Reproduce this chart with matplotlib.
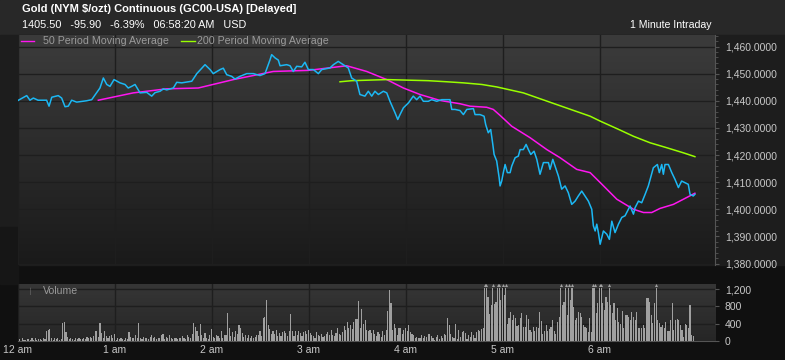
import numpy as np
import matplotlib
matplotlib.use("Agg")
import matplotlib.pyplot as plt
from matplotlib.colors import LinearSegmentedColormap
from matplotlib.ticker import MultipleLocator, FuncFormatter
from matplotlib.patches import Rectangle

plt.rcParams['font.family'] = ['Liberation Sans', 'DejaVu Sans']

# price, minutes after midnight -> last
price_t = [0, 5.7, 7.7, 9.8, 12.7, 18, 19.5, 21.2, 25.2, 27.3, 29.4, 31.4, 33.5, 36.6, 42.8, 45.9,
           51, 53.1, 55.2, 57.2, 59.7, 63.4, 66.5, 68.5, 70.6, 72.7, 75.8, 79.9, 83, 85.1, 88.2,
           90.2, 92.3, 96.4, 98.5, 101.6, 107.8, 110.9, 116, 119.1, 121.1, 125.3, 127.3, 129.4,
           132.5, 134.5, 137.6, 141.8, 145.9, 150, 153.1, 156.2, 157.2, 159.3, 161.3, 162.4,
           166.5, 168.6, 170.6, 172.7, 175.8, 177.8, 179.9, 183, 186.1, 188.2, 193.3, 195.4,
           198.4, 201.5, 204.6, 206.7, 209.8, 211.8, 214.9, 217, 219.1, 221.1, 223.2, 226.3,
           228.4, 230.4, 233.5, 235.2, 236.6, 238.7, 241.8, 244.8, 246.9, 249, 251, 254.1,
           256.2, 259.3, 262.4, 267.5, 268.6, 270.6, 273.7, 275.8, 277.9, 282, 283, 286.1,
           288.6, 289.6, 291.2, 292.7, 294, 294.8, 296.4, 297.9, 298.5, 299.5, 300.5, 301.6,
           303, 304.7, 305.7, 307.8, 309.8, 310.9, 312.9, 314.6, 316, 317.5, 319.5, 321.2,
           323.2, 325.3, 328.4, 329.4, 331.1, 332.5, 334.6, 336.6, 338.7, 340.7, 342.8, 344.9,
           346.9, 349, 351, 353.1, 355.2, 356.2, 357.3, 358.3, 359.3, 360.4, 362.4, 364.5,
           366.1, 367.6, 369.6, 371.7, 373.8, 375.8, 378.9, 381, 382, 384.1, 386.1, 388.2,
           390.2, 391.3, 393.3, 395.8, 397, 398.5, 399.5, 400.5, 402.6, 404.7, 406.7, 408.8,
           410.8, 412.9, 414.9, 416, 418, 419]
price = [1440.0, 1441.9, 1440.2, 1441.0, 1440.2, 1440.2, 1438.0, 1441.3, 1441.9, 1441.0, 1437.8,
         1438.0, 1440.2, 1439.5, 1440.0, 1440.4, 1444.7, 1448.4, 1446.0, 1445.3, 1447.8, 1446.6,
         1446.0, 1444.7, 1445.3, 1446.0, 1442.9, 1443.1, 1441.7, 1443.0, 1443.5, 1444.4, 1444.0,
         1444.7, 1446.8, 1446.6, 1447.2, 1450.0, 1453.3, 1451.5, 1450.0, 1451.5, 1452.0, 1449.6,
         1449.0, 1448.0, 1449.0, 1450.0, 1450.0, 1449.3, 1450.0, 1455.1, 1457.0, 1455.8, 1455.0,
         1452.9, 1453.3, 1452.9, 1450.8, 1452.7, 1452.5, 1454.2, 1451.5, 1451.5, 1450.0, 1451.5,
         1452.1, 1453.3, 1454.5, 1453.3, 1452.1, 1448.4, 1447.2, 1442.3, 1441.7, 1443.5, 1441.7,
         1443.5, 1442.3, 1443.5, 1442.9, 1439.8, 1435.6, 1433.1, 1434.9, 1437.4, 1439.2, 1441.7,
         1440.4, 1441.7, 1439.8, 1439.8, 1440.4, 1439.8, 1440.4, 1440.4, 1436.8, 1436.8, 1436.4,
         1434.9, 1436.8, 1437.1, 1434.9, 1434.9, 1434.3, 1431.2, 1428.2, 1429.4, 1423.9, 1420.2,
         1417.8, 1411.7, 1408.6, 1410.4, 1413.5, 1416.5, 1413.5, 1413.5, 1415.9, 1419.0, 1419.6,
         1422.0, 1422.0, 1423.9, 1422.0, 1420.2, 1421.4, 1418.4, 1412.9, 1417.2, 1417.2, 1414.7,
         1418.4, 1415.9, 1412.2, 1407.4, 1408.6, 1406.1, 1401.8, 1403.0, 1404.9, 1406.7, 1404.9,
         1403.0, 1400.0, 1393.9, 1392.0, 1394.5, 1391.4, 1387.1, 1392.0, 1390.8, 1388.9, 1395.6,
         1391.4, 1394.5, 1397.0, 1397.6, 1401.2, 1398.2, 1400.6, 1403.0, 1402.4, 1405.5, 1408.6,
         1411.0, 1415.3, 1416.5, 1413.5, 1416.5, 1412.9, 1416.5, 1416.5, 1413.5, 1411.0, 1408.0,
         1410.4, 1409.8, 1409.2, 1405.5, 1404.9, 1405.5]

ma50_t = [50, 71.6, 92.3, 111.8, 133.5, 158.2, 179.9, 203.6, 216, 228.4, 238.7, 249, 261.4,
          273.7, 279.9, 290.2, 294.3, 298.5, 305.7, 317, 327.4, 335.6, 345.9, 354.2, 361,
          370.7, 381, 387.2, 392.3, 397.4, 405.7, 411.9, 419]
ma50 = [1440.2, 1442.9, 1444.4, 1444.7, 1447.8, 1450.8, 1451.2, 1452.9, 1450.8, 1447.8, 1444.7,
        1442.3, 1440.1, 1438.9, 1438.0, 1437.6, 1436.8, 1434.6, 1430.6, 1426.4, 1422.0, 1419.0,
        1414.7, 1413.5, 1409.5, 1403.7, 1400.0, 1398.8, 1398.8, 1400.3, 1401.8, 1403.7, 1405.9]

ma200_t = [199.5, 206.7, 228.4, 254.1, 265.5, 275.8, 287.2, 296.4, 312.9, 333.5, 354.2, 360.4,
           372.7, 381, 391.3, 401.5, 411.9, 419]
ma200 = [1447.0, 1447.4, 1447.8, 1447.4, 1447.0, 1446.6, 1446.0, 1445.1, 1442.9, 1438.6, 1434.3,
         1432.5, 1429.2, 1426.9, 1424.5, 1422.7, 1420.8, 1419.4]

# volume per minute (12:00 am onward)
volume = [
    20, 40, 10, 60, 30, 20, 50, 40, 30, 60,
    30, 60, 20, 40, 50, 30, 70, 40, 240, 250,
    270, 60, 30, 80, 40, 60, 30, 50, 420, 440,
    210, 90, 40, 70, 50, 30, 60, 40, 80, 50,
    40, 70, 50, 90, 60, 100, 80, 120, 220, 240,
    90, 410, 180, 70, 230, 120, 60, 110, 150, 80,
    160, 30, 60, 40, 80, 50, 30, 70, 40, 200,
    100, 60, 70, 130, 80, 420, 60, 50, 90, 70,
    60, 50, 100, 140, 60, 90, 40, 80, 60, 150,
    170, 50, 90, 60, 130, 80, 40, 70, 60, 50,
    80, 60, 110, 70, 50, 130, 90, 60, 170, 410,
    330, 220, 110, 390, 150, 80, 180, 60, 40, 130,
    270, 90, 60, 140, 110, 80, 220, 70, 130, 150,
    650, 310, 120, 200, 90, 230, 170, 360, 300, 180,
    100, 150, 60, 140, 80, 110, 60, 90, 150, 140,
    230, 120, 520, 560, 950, 360, 280, 160, 230, 170,
    250, 120, 180, 110, 200, 240, 180, 120, 230, 620,
    230, 110, 240, 130, 220, 180, 110, 200, 230, 170,
    260, 180, 140, 120, 80, 200, 150, 110, 170, 90,
    120, 170, 210, 130, 250, 140, 110, 180, 290, 160,
    130, 200, 350, 260, 450, 310, 370, 280, 450, 500,
    500, 920, 300, 750, 400, 480, 260, 240, 250, 180,
    250, 160, 120, 200, 170, 90, 220, 150, 250, 700,
    1180, 870, 260, 400, 300, 150, 290, 300, 170, 250,
    310, 220, 360, 210, 160, 140, 60, 100, 80, 60,
    140, 70, 110, 90, 170, 160, 120, 60, 30, 100,
    130, 40, 120, 70, 160, 130, 540, 380, 170, 100,
    60, 390, 50, 250, 100, 200, 230, 180, 50, 140,
    100, 210, 140, 60, 210, 260, 230, 270, 290, 1500,
    1500, 1020, 630, 830, 1500, 860, 910, 1500, 1500, 950,
    1500, 1060, 1500, 400, 520, 680, 490, 600, 520, 350,
    380, 520, 640, 330, 330, 600, 500, 250, 210, 330,
    220, 330, 290, 670, 460, 160, 220, 360, 240, 270,
    330, 480, 220, 160, 440, 560, 1500, 820, 900, 1500,
    600, 1500, 950, 1500, 790, 490, 520, 680, 640, 560,
    370, 330, 290, 215, 520, 215, 1500, 1500, 640, 870,
    1500, 1500, 870, 720, 1020, 900, 1260, 830, 640, 870,
    480, 760, 450, 400, 700, 290, 600, 600, 560, 490,
    680, 560, 490, 680, 290, 290, 290, 370, 290, 990,
    990, 910, 600, 410, 870, 1500, 490, 410, 330, 370,
    290, 450, 220, 220, 490, 870, 250, 490, 500, 480,
    370, 250, 100, 400, 370, 290, 830, 140, 120,
]

hour_ticks = [0, 60, 120, 180, 240, 300, 360]
hour_labels = ['12 am', '1 am', '2 am', '3 am', '4 am', '5 am', '6 am']
price_ticks = [1380, 1390, 1400, 1410, 1420, 1430, 1440, 1450, 1460]
vol_ticks = [0, 400, 800, 1200]

W, H = 785, 360
fig = plt.figure(figsize=(W / 100, H / 100), dpi=100)
fig.patch.set_facecolor('#101010')

def px(x0, y0, x1, y1):
    return [x0 / W, 1 - y1 / H, (x1 - x0) / W, (y1 - y0) / H]

# background bands behind everything
bands = [((0, 1 - 35 / H), 1, 35 / H, '#282828'),
         ((0, 1 - 265 / H), 1, 230 / H, '#1d1d1d'),
         ((0, 1 - 284 / H), 17.5 / W, 57 / H, '#161616')]
for xy, w, h, c in bands:
    fig.patches.append(Rectangle(xy, w, h, transform=fig.transFigure, color=c, zorder=-10))


def gradient(ax, top, bottom):
    g = np.linspace(0, 1, 256).reshape(-1, 1)
    cmap = LinearSegmentedColormap.from_list('bg', [top, bottom])
    ax.imshow(g, aspect='auto', cmap=cmap, extent=[0, 1, 0, 1],
              transform=ax.transAxes, zorder=0, interpolation='bilinear')


XMAX = (715 - 17.5) / 1.6167

ax = fig.add_axes(px(17.5, 35, 715, 265))
gradient(ax, '#3c3c3c', '#1a1a1a')
ax.axhspan(1460, 1465, color='#3a3a3a', zorder=1)
ax.plot(price_t, price, color='#1cb8f4', lw=1.1, zorder=4)
ax.plot(ma50_t, ma50, color='#ff16f0', lw=1.1, zorder=3)
ax.plot(ma200_t, ma200, color='#99ff00', lw=1.1, zorder=3)
ax.set_xlim(0, XMAX)
ax.set_ylim(1379.45, 1464.24)
ax.set_xticks(hour_ticks)
ax.set_yticks(price_ticks)
ax.yaxis.set_minor_locator(MultipleLocator(2))
ax.yaxis.tick_right()
ax.yaxis.set_major_formatter(FuncFormatter(lambda v, p: '{:,.4f}'.format(v)))
ax.tick_params(axis='y', colors='#555555', labelcolor='#c8c8c8', labelsize=7.5,
               length=3, pad=4, which='major')
ax.tick_params(axis='y', colors='#555555', length=2, which='minor')
ax.tick_params(axis='x', length=0, labelbottom=False)
ax.grid(True, color='#1e1e1e', lw=1, zorder=2)
for s in ['top', 'left', 'bottom']:
    ax.spines[s].set_visible(False)
ax.spines['right'].set_color('#555555')

# legend strip
ly = 1 - 41 / H
fig.lines.append(plt.Line2D([21 / W, 34 / W], [ly, ly], color='#ff16f0', lw=1,
                            transform=fig.transFigure))
fig.text(43 / W, ly, '50 Period Moving Average', color='#9a9a9a', fontsize=7.7,
         va='center', ha='left')
fig.lines.append(plt.Line2D([181 / W, 195 / W], [ly, ly], color='#99ff00', lw=1,
                            transform=fig.transFigure))
fig.text(197 / W, ly, '200 Period Moving Average', color='#9a9a9a', fontsize=7.7,
         va='center', ha='left')

# titles
fig.text(22 / W, 1 - 9 / H, 'Gold (NYM $/ozt) Continuous (GC00-USA) [Delayed]',
         color='white', fontsize=8.0, fontweight='bold', va='center', ha='left')
fig.text(22 / W, 1 - 24.5 / H, '1405.50   -95.90   -6.39%   06:58:20 AM   USD',
         color='white', fontsize=7.8, va='center', ha='left')
fig.text(711 / W, 1 - 24.5 / H, '1 Minute Intraday', color='white', fontsize=7.6,
         va='center', ha='right')

# volume panel
axv = fig.add_axes(px(17.5, 284, 715, 341))
gradient(axv, '#363636', '#262626')
vol = np.array(volume, dtype=float)
vt = np.arange(len(vol))
cap = 1230
axv.bar(vt, np.minimum(vol, cap), width=0.7, color='#a0a0a0', zorder=3)
big = vol > cap
axv.scatter(vt[big], np.full(big.sum(), 1285), marker='^', s=5, color='#a0a0a0',
            linewidths=0, zorder=3)
axv.set_xlim(0, XMAX)
axv.set_ylim(0, 1316)
axv.set_yticks(vol_ticks)
axv.yaxis.tick_right()
axv.yaxis.set_major_formatter(FuncFormatter(lambda v, p: '{:,.0f}'.format(v)))
axv.tick_params(axis='y', colors='#555555', labelcolor='#c8c8c8', labelsize=7.5,
                length=3, pad=4)
axv.set_xticks(hour_ticks)
axv.set_xticklabels(hour_labels)
axv.tick_params(axis='x', length=0, labelcolor='#c8c8c8', labelsize=7.5, pad=3)
axv.grid(True, color='#1e1e1e', lw=1, zorder=2)
for s in ['top', 'left', 'right']:
    axv.spines[s].set_visible(False)
axv.spines['bottom'].set_color('#555555')
axv.text(0.037, 0.87, 'Volume', transform=axv.transAxes, color='#9a9a9a', fontsize=7.6,
         va='center', ha='left')
axv.text(0.016, 0.87, '\u2502', transform=axv.transAxes, color='#8a8a8a', fontsize=4,
         va='center', ha='left')

fig.savefig('out.png', dpi=100, facecolor=fig.get_facecolor())
